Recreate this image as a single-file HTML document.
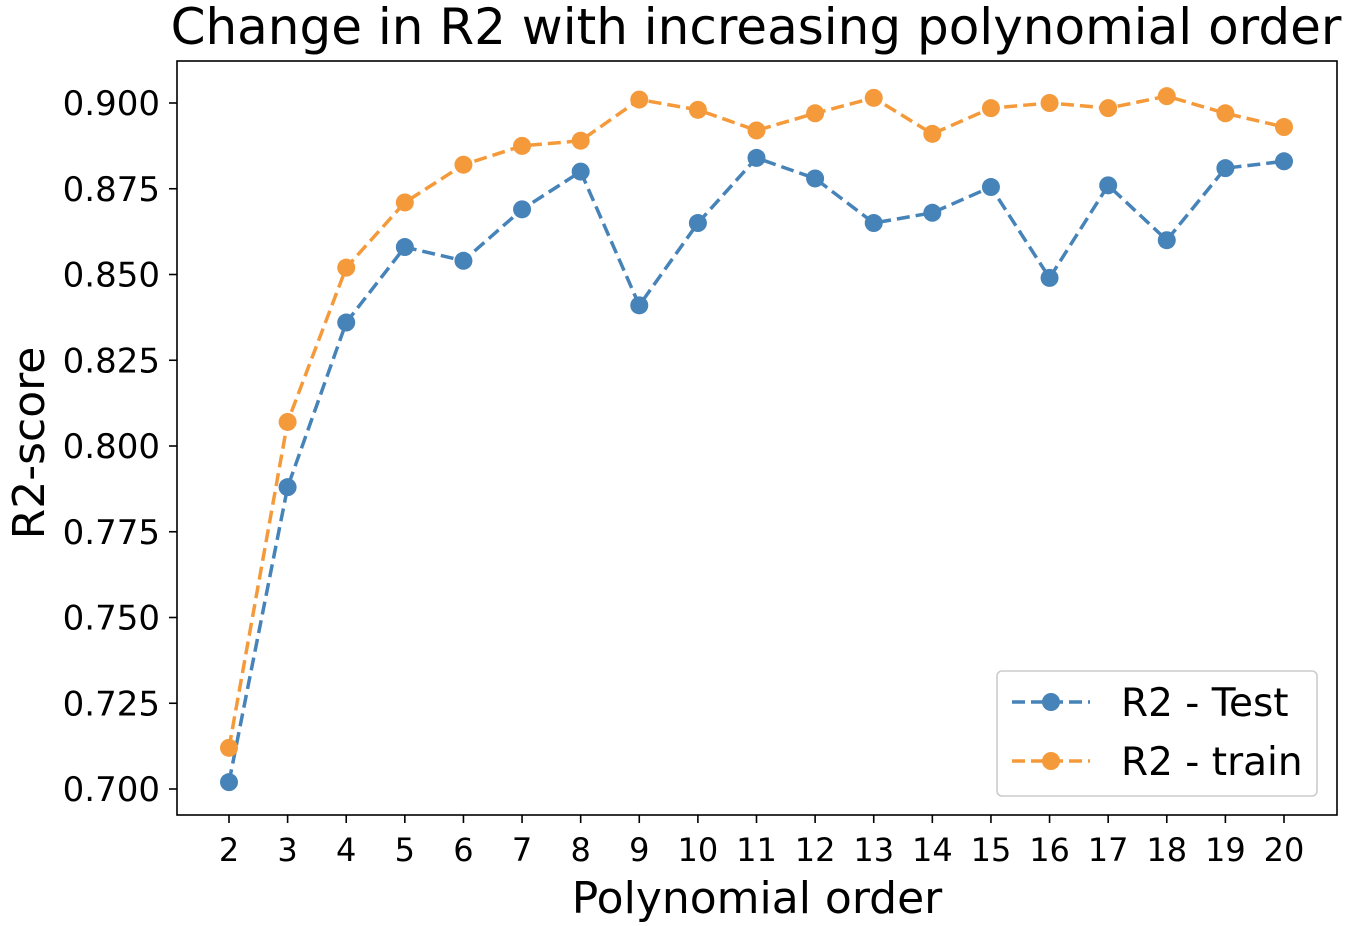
<!DOCTYPE html>
<html><head><meta charset="utf-8"><style>
html,body{margin:0;padding:0;background:#fff;}
svg{display:block;font-family:"DejaVu Sans","Liberation Sans",sans-serif;}
</style></head><body>
<svg id="chart" width="1348" height="926">
<text x="756" y="44" font-size="50" text-anchor="middle" fill="#000">Change in R2 with increasing polynomial order</text>
<text x="757" y="913" font-size="44" text-anchor="middle" fill="#000">Polynomial order</text>
<text transform="translate(44,443) rotate(-90)" font-size="44" text-anchor="middle" fill="#000">R2-score</text>
<g id="plot"></g>
</svg>
<script>
const orders=[2,3,4,5,6,7,8,9,10,11,12,13,14,15,16,17,18,19,20];
const r2Test=[0.702,0.788,0.836,0.858,0.854,0.869,0.880,0.841,0.865,0.884,0.878,0.865,0.868,0.8755,0.849,0.876,0.860,0.881,0.883];
const r2Train=[0.712,0.807,0.852,0.871,0.882,0.8875,0.889,0.901,0.898,0.892,0.897,0.9015,0.891,0.8985,0.900,0.8985,0.902,0.897,0.893];
const yTicks=[0.700,0.725,0.750,0.775,0.800,0.825,0.850,0.875,0.900];
const NS="http://www.w3.org/2000/svg";
const L=177,R=1337,T=61,B=815;
const xs=v=>229+(v-2)*(1284-229)/18;
const ys=v=>789-(v-0.7)*(789-103)/0.2;
const g=document.getElementById('plot');
function el(tag,attrs,parent){const e=document.createElementNS(NS,tag);for(const k in attrs)e.setAttribute(k,attrs[k]);(parent||g).appendChild(e);return e;}
const frame=el('rect',{x:L,y:T,width:R-L,height:B-T,fill:'none',stroke:'#000','stroke-width':1.6});


yTicks.forEach(t=>{const y=ys(t);
 const tk=el('line',{x1:L-8,x2:L,y1:y,y2:y,stroke:'#000','stroke-width':1.6});
 
 
 const tx=el('text',{x:L-17,y:y+12,'font-size':34,'text-anchor':'end'});tx.textContent=t.toFixed(3);
 
 
});
orders.forEach(o=>{const x=xs(o);
 const tk=el('line',{x1:x,x2:x,y1:B,y2:B+8,stroke:'#000','stroke-width':1.6});
 
 
 const tx=el('text',{x:x,y:B+46,'font-size':32,'text-anchor':'middle'});tx.textContent=o;
 
 
});
function series(vals,color,name){
 const p=el('polyline',{points:vals.map((v,i)=>xs(orders[i])+','+ys(v)).join(' '),fill:'none',stroke:color,'stroke-width':3.5,'stroke-dasharray':'13,6'});
 
 
 vals.forEach((v,i)=>{const c=el('circle',{cx:xs(orders[i]),cy:ys(v),r:9,fill:color});
  
  });
}
series(r2Test,'#4683b8','test');
series(r2Train,'#f59a3a','train');
const lg=el('g',{});


el('rect',{x:997,y:671,width:320,height:125,rx:5,fill:'#fff',stroke:'#ccc','stroke-width':1.6},lg);
[['R2 - Test','#4683b8',702],['R2 - train','#f59a3a',761]].forEach(([t,c,y])=>{
 el('line',{x1:1012,x2:1090,y1:y,y2:y,stroke:c,'stroke-width':3.5,'stroke-dasharray':'13,6'},lg);
 el('circle',{cx:1051,cy:y,r:9,fill:c},lg);
 const tx=el('text',{x:1121,y:y+14,'font-size':39},lg);tx.textContent=t;
 
 
});
</script>
</body></html>
